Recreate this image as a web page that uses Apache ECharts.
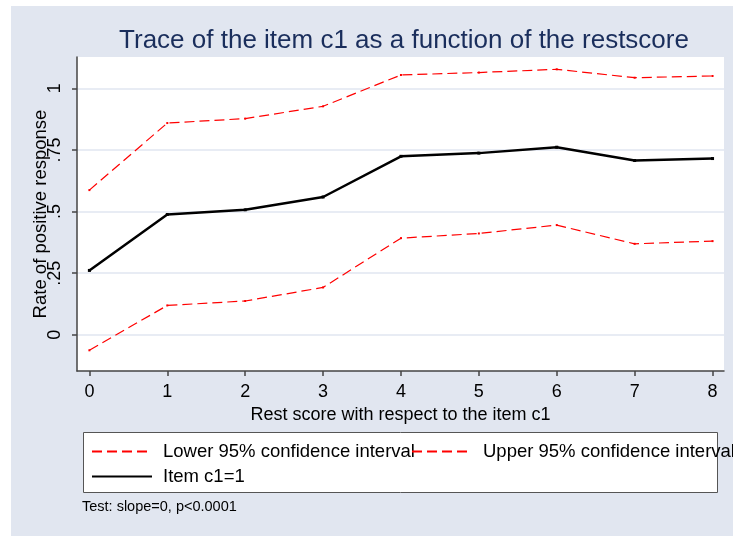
<!DOCTYPE html>
<html>
<head>
<meta charset="utf-8">
<script src="https://cdn.jsdelivr.net/npm/echarts@6/dist/echarts.min.js"></script>
<style>
	html, body { margin:0; padding:0; background:#ffffff; }
	#main { position:absolute; left:11px; top:6px; width:722px; height:530px; }
</style>
</head>
<body>
<div id="main"></div>
<script>
// rest scores on the x axis
var restScores = [0, 1, 2, 3, 4, 5, 6, 7, 8];
// rate of positive response, item c1
var itemValues = [0.261, 0.488, 0.507, 0.559, 0.724, 0.737, 0.761, 0.707, 0.715];
var lowerValues = [-0.063, 0.119, 0.137, 0.192, 0.392, 0.411, 0.445, 0.369, 0.380];
var upperValues = [0.587, 0.859, 0.877, 0.927, 1.054, 1.064, 1.077, 1.043, 1.050];
// tick values / labels
var yTicks = [0, 0.25, 0.5, 0.75, 1];
var yTickLabels = ['0', '.25', '.5', '.75', '1'];
var xTicks = [0, 1, 2, 3, 4, 5, 6, 7, 8];

function pairs(xs, ys){
	var out = [];
	for(var i=0;i<xs.length;i++){
		out.push([xs[i], ys[i]]);
	}
	return out;
}

var chart = echarts.init(document.getElementById('main'));
var font = 'Liberation Sans, Arial, Helvetica, sans-serif';
var option = {
	backgroundColor: '#e1e6f0',
	animation: false,
	textStyle: { fontFamily: font },
	title: {
		text: 'Trace of the item c1 as a function of the restscore',
		left: 388, top: 17, textAlign: 'center',
		textStyle: { fontFamily: font, fontSize: 26, fontWeight: 'normal', color: '#1a2e5c' }
	},
	grid: {
		left: 66, top: 51, width: 647, height: 314,
		show: true, backgroundColor: '#ffffff', borderWidth: 0
	},
	xAxis: {
		type: 'value', min: -0.159, max: 8.147,
		name: 'Rest score with respect to the item c1',
		nameLocation: 'middle', nameGap: 31,
		nameTextStyle: { fontFamily: font, fontSize: 18, color: '#000' },
		axisLine: { show: true, onZero: false, lineStyle: { color: '#444', width: 1.5 } },
		axisTick: { show: true, length: 5, customValues: xTicks, lineStyle: { color: '#444', width: 1.5 } },
		axisLabel: { customValues: xTicks, margin: 12, fontFamily: font, fontSize: 18, color: '#000' },
		splitLine: { show: false }
	},
	yAxis: {
		type: 'value', min: -0.147, max: 1.127,
		name: 'Rate of positive response',
		nameLocation: 'middle', nameGap: 27, nameRotate: 90, nameMoveOverlap: false,
		nameTextStyle: { fontFamily: font, fontSize: 18.5, color: '#000' },
		axisLine: { show: true, onZero: false, lineStyle: { color: '#444', width: 1.5 } },
		axisTick: { show: true, length: 5, customValues: yTicks, lineStyle: { color: '#444', width: 1.5 } },
		axisLabel: {
			customValues: yTicks, rotate: 90, margin: 13, fontFamily: font, fontSize: 18, color: '#000',
			formatter: function(v){
				for(var i=0;i<yTicks.length;i++){
					if(Math.abs(yTicks[i]-v)<1e-6) return yTickLabels[i];
				}
				return '';
			}
		},
		splitLine: { show: true, lineStyle: { color: '#e1e6f0', width: 1.5 } }
	},
	legend: [{
		data: ['Lower 95% confidence interval', 'Item c1=1'],
		orient: 'vertical', left: 80, top: 436, padding: 0,
		itemWidth: 60, itemHeight: 14, itemGap: 6,
		itemStyle: { opacity: 0 },
		textStyle: { fontFamily: font, fontSize: 18.5, color: '#000', lineHeight: 18, padding: [0,0,0,6] }
	}, {
		data: ['Upper 95% confidence interval'],
		orient: 'vertical', left: 400, top: 436, padding: 0,
		itemWidth: 60, itemHeight: 14, itemGap: 6,
		itemStyle: { opacity: 0 },
		textStyle: { fontFamily: font, fontSize: 18.5, color: '#000', lineHeight: 18, padding: [0,0,0,6] }
	}],
	graphic: [{
		type: 'rect', z: -1,
		shape: { x: 72.5, y: 426.5, width: 634, height: 60 },
		style: { fill: '#ffffff', stroke: '#555', lineWidth: 1 }
	}, {
		type: 'text', left: 71, top: 493,
		style: { text: 'Test: slope=0, p<0.0001', fill: '#000', font: '14.5px ' + font }
	}],
	series: [{
		name: 'Lower 95% confidence interval', type: 'line',
		data: pairs(restScores, lowerValues),
		symbol: 'rect', symbolSize: 2,
		itemStyle: { color: '#ff0000' },
		lineStyle: { color: '#ff0000', width: 1.2, type: [10, 5] }
	}, {
		name: 'Upper 95% confidence interval', type: 'line',
		data: pairs(restScores, upperValues),
		symbol: 'rect', symbolSize: 2,
		itemStyle: { color: '#ff0000' },
		lineStyle: { color: '#ff0000', width: 1.2, type: [10, 5] }
	}, {
		name: 'Item c1=1', type: 'line',
		data: pairs(restScores, itemValues),
		symbol: 'rect', symbolSize: 3,
		itemStyle: { color: '#000' },
		lineStyle: { color: '#000', width: 2.5 }
	}]
};
chart.setOption(option);
</script>
</body>
</html>
